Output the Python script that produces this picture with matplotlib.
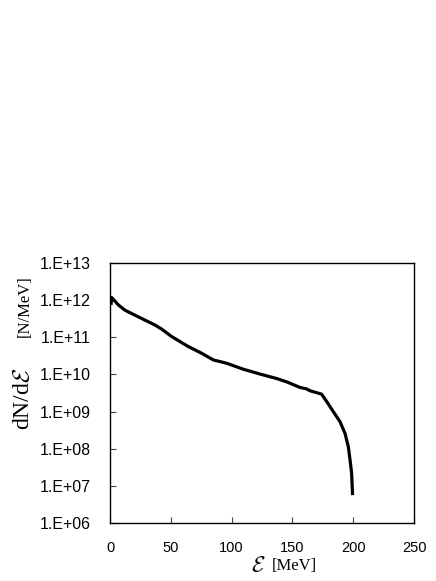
import matplotlib
matplotlib.use("Agg")
import matplotlib.pyplot as plt

plt.rcParams['mathtext.fontset'] = 'cm'

energy = [0.8, 1.4, 6.9, 12.3, 23.3, 37, 42.5, 50.7, 64.4, 75.4, 85, 96, 109.6,
          123.4, 137, 145.3, 156.2, 161.7, 164.5, 174, 178.2, 183.6, 189.1, 193.3,
          196, 197.4, 198.7, 199.5]
log_dnde = [11.87, 12.07, 11.87, 11.73, 11.55, 11.33, 11.22, 11.02, 10.75, 10.57,
            10.39, 10.30, 10.14, 10.01, 9.89, 9.80, 9.65, 9.61, 9.56, 9.47, 9.27,
            9.00, 8.73, 8.41, 8.05, 7.70, 7.34, 6.75]
dnde = [10 ** v for v in log_dnde]

xticks = [0, 50, 100, 150, 200, 250]
yticks = [1e6, 1e7, 1e8, 1e9, 1e10, 1e11, 1e12, 1e13]
ytick_labels = ["1.E+06", "1.E+07", "1.E+08", "1.E+09", "1.E+10", "1.E+11", "1.E+12", "1.E+13"]

fig = plt.figure(figsize=(4.36, 5.81), dpi=100)
ax = fig.add_axes([110/436, 1-523/581, (414-110)/436, (523-263)/581])
ax.plot(energy, dnde, color='black', lw=2.3, solid_joinstyle='round', solid_capstyle='butt')
ax.set_yscale('log')
ax.set_xlim(0, 250)
ax.set_ylim(1e6, 1e13)
ax.set_xticks(xticks)
ax.set_xticklabels([str(t) for t in xticks], fontfamily='Liberation Sans', fontsize=10.5)
ax.set_yticks(yticks)
ax.set_yticklabels(ytick_labels, fontfamily='Liberation Sans', fontsize=11.5)
ax.minorticks_off()
ax.tick_params(axis='both', direction='in', length=4, width=0.8, color='#444444')
ax.tick_params(axis='y', pad=14)
ax.tick_params(axis='x', pad=13)
for s in ax.spines.values():
    s.set_linewidth(1.0)
    s.set_color('black')

# y label (two parts)
fig.text(24/436, 1-399/581, r"dN/d$\mathcal{E}$", rotation=90, ha='center', va='center',
         fontfamily='Liberation Serif', fontsize=17)
fig.text(25/436, 1-306/581, "[N/MeV]", rotation=90, ha='center', va='center',
         fontfamily='Liberation Serif', fontsize=12)
# x label
fig.text(258/436, 1-566/581, r"$\mathcal{E}$", ha='center', va='center', fontsize=16)
fig.text(272/436, 1-566/581, "[MeV]", ha='left', va='center',
         fontfamily='Liberation Serif', fontsize=12)

fig.savefig("out.png", dpi=100)
